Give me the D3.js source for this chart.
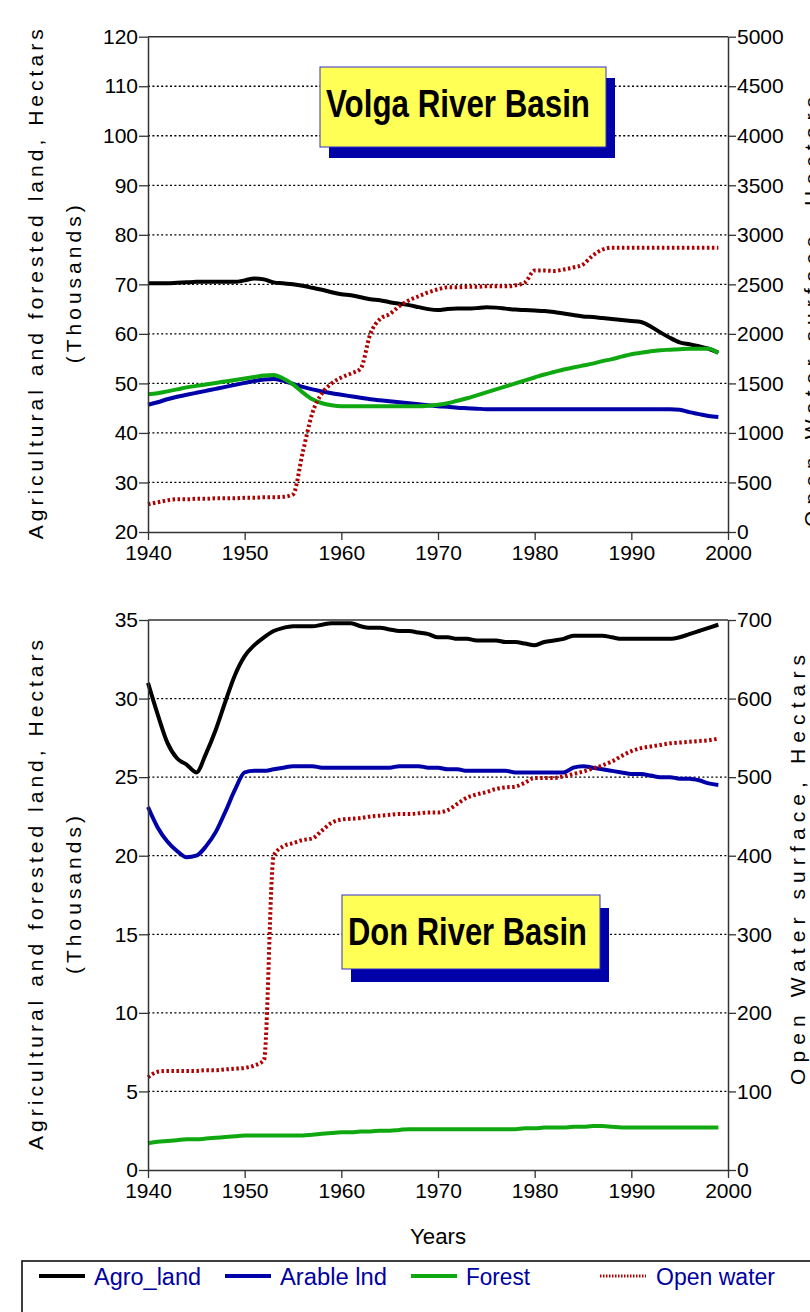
<!DOCTYPE html>
<html>
<head>
<meta charset="utf-8">
<script src="https://cdn.jsdelivr.net/npm/d3@7"></script>
<style>
body { margin: 0; background: #fff; }
text { font-family: "Liberation Sans", Arial, Helvetica, sans-serif; }
</style>
</head>
<body>
<svg id="chart" width="810" height="1312"></svg>
<script>
var years = d3.range(1940, 2000);
var xTicks = [1940, 1950, 1960, 1970, 1980, 1990, 2000];

// Volga river basin (left axis: thousands ha, right axis: ha)
var volgaAgro = [70.2,70.2,70.2,70.3,70.4,70.5,70.5,70.5,70.5,70.5,
  70.8,71.2,71.0,70.4,70.2,70.0,69.7,69.3,68.9,68.4,
  68.0,67.8,67.4,67.0,66.8,66.4,66.1,65.8,65.4,65.0,
  64.8,65.0,65.1,65.1,65.2,65.4,65.3,65.1,64.9,64.8,
  64.7,64.6,64.4,64.1,63.8,63.5,63.4,63.2,63.0,62.8,
  62.6,62.4,61.5,60.3,59.2,58.3,57.9,57.5,57.0,56.2];
var volgaArable = [45.7,46.2,46.8,47.3,47.7,48.1,48.5,48.9,49.3,49.7,
  50.1,50.5,50.8,50.9,50.5,49.9,49.3,48.8,48.4,48.0,
  47.7,47.4,47.1,46.8,46.6,46.4,46.2,46.0,45.8,45.6,
  45.4,45.3,45.1,45.0,44.9,44.8,44.8,44.8,44.8,44.8,
  44.8,44.8,44.8,44.8,44.8,44.8,44.8,44.8,44.8,44.8,
  44.8,44.8,44.8,44.8,44.8,44.7,44.2,43.8,43.4,43.2];
var volgaForest = [47.8,48.0,48.4,48.8,49.2,49.5,49.8,50.1,50.4,50.7,
  51.0,51.3,51.6,51.7,51.0,49.8,48.2,46.8,46.0,45.6,
  45.4,45.4,45.4,45.4,45.4,45.4,45.4,45.4,45.4,45.5,
  45.7,46.0,46.5,47.0,47.6,48.2,48.8,49.4,50.0,50.6,
  51.2,51.8,52.3,52.8,53.2,53.6,54.0,54.5,54.9,55.4,
  55.9,56.2,56.5,56.7,56.8,56.9,57.0,57.0,57.0,56.1];
var volgaWater = [280,300,320,330,330,335,335,340,340,340,
  345,345,350,350,355,380,800,1200,1400,1500,
  1560,1600,1650,2000,2150,2200,2280,2340,2380,2420,
  2450,2470,2470,2475,2475,2480,2480,2480,2490,2520,
  2640,2640,2635,2650,2670,2700,2790,2850,2870,2870,
  2870,2870,2870,2870,2870,2870,2870,2870,2870,2870];
var volgaLeftTicks = [20, 30, 40, 50, 60, 70, 80, 90, 100, 110, 120];
var volgaRightTicks = [0, 500, 1000, 1500, 2000, 2500, 3000, 3500, 4000, 4500, 5000];

// Don river basin
var donAgro = [31.0,29.0,27.2,26.2,25.8,25.3,26.5,28.0,29.8,31.5,
  32.7,33.4,33.9,34.3,34.5,34.6,34.6,34.6,34.7,34.8,
  34.8,34.8,34.6,34.5,34.5,34.4,34.3,34.3,34.2,34.1,
  33.9,33.9,33.8,33.8,33.7,33.7,33.7,33.6,33.6,33.5,
  33.4,33.6,33.7,33.8,34.0,34.0,34.0,34.0,33.9,33.8,
  33.8,33.8,33.8,33.8,33.8,33.9,34.1,34.3,34.5,34.7];
var donArable = [23.1,21.8,20.9,20.3,19.9,20.0,20.6,21.5,22.8,24.2,
  25.3,25.4,25.4,25.5,25.6,25.7,25.7,25.7,25.6,25.6,
  25.6,25.6,25.6,25.6,25.6,25.6,25.7,25.7,25.7,25.6,
  25.6,25.5,25.5,25.4,25.4,25.4,25.4,25.4,25.3,25.3,
  25.3,25.3,25.3,25.3,25.6,25.7,25.6,25.5,25.4,25.3,
  25.2,25.2,25.1,25.0,25.0,24.9,24.9,24.8,24.6,24.5];
var donForest = [1.7,1.8,1.85,1.9,1.95,1.95,2.0,2.05,2.1,2.15,
  2.2,2.2,2.2,2.2,2.2,2.2,2.2,2.25,2.3,2.35,
  2.4,2.4,2.45,2.45,2.5,2.5,2.55,2.6,2.6,2.6,
  2.6,2.6,2.6,2.6,2.6,2.6,2.6,2.6,2.6,2.65,
  2.65,2.7,2.7,2.7,2.75,2.75,2.8,2.8,2.75,2.7,
  2.7,2.7,2.7,2.7,2.7,2.7,2.7,2.7,2.7,2.7];
var donWater = [118,125,126,126,126,126,127,127,128,129,
  130,133,140,400,412,416,420,422,432,442,
  446,447,448,450,451,452,453,453,454,455,
  455,458,466,474,478,481,485,487,488,493,
  499,499,499,501,504,507,511,515,520,527,
  533,537,539,541,543,544,545,546,547,549];
var donLeftTicks = [0, 5, 10, 15, 20, 25, 30, 35];
var donRightTicks = [0, 100, 200, 300, 400, 500, 600, 700];

var seriesNames = ["Agro_land", "Arable lnd", "Forest", "Open water"];
var seriesColors = ["#000000", "#0000a8", "#10a810", "#b00000"];

var svg = d3.select("#chart");

var x = d3.scaleLinear()
  .domain([1940, 2000])
  .range([148, 728]);

function drawPanel(p) {
  var yL = d3.scaleLinear().domain(p.leftDomain).range([p.bottom, p.top]);
  var yR = d3.scaleLinear().domain(p.rightDomain).range([p.bottom, p.top]);
  var g = svg.append("g");

  // dotted grid
  g.selectAll(".grid")
    .data(p.leftTicks.slice(1, -1))
    .enter().append("line")
    .attr("x1", x(1940)).attr("x2", x(2000))
    .attr("y1", function(d) { return yL(d); })
    .attr("y2", function(d) { return yL(d); })
    .attr("stroke", "#000")
    .attr("stroke-width", 1.3)
    .attr("stroke-dasharray", "2,2.4");

  // top frame
  g.append("line")
    .attr("x1", x(1940)).attr("x2", x(2000))
    .attr("y1", p.top).attr("y2", p.top)
    .attr("stroke", "#333").attr("stroke-width", 1.5);

  // title box with shadow
  var b = p.box;
  g.append("rect").attr("x", b.x + b.dx).attr("y", b.y + b.dy)
    .attr("width", b.w).attr("height", b.h).attr("fill", "#0000a8");
  g.append("rect").attr("x", b.x).attr("y", b.y)
    .attr("width", b.w).attr("height", b.h)
    .attr("fill", "#ffff55").attr("stroke", "#3030c8").attr("stroke-width", 1);
  g.append("text")
    .attr("x", b.x + 6).attr("y", b.base)
    .attr("font-size", 39).attr("font-weight", "bold")
    .attr("textLength", b.tl).attr("lengthAdjust", "spacingAndGlyphs")
    .text(b.label);

  // series
  var left = [p.agro, p.arable, p.forest];
  left.forEach(function(vals, i) {
    var line = d3.line()
      .x(function(d, j) { return x(years[j]); })
      .y(function(d) { return yL(d); })
      .curve(d3.curveMonotoneX);
    g.append("path").datum(vals)
      .attr("d", line)
      .attr("fill", "none")
      .attr("stroke", seriesColors[i])
      .attr("stroke-width", 4);
  });
  var wline = d3.line()
    .x(function(d, j) { return x(years[j]); })
    .y(function(d) { return yR(d); })
    .curve(d3.curveMonotoneX);
  g.append("path").datum(p.water)
    .attr("d", wline)
    .attr("fill", "none")
    .attr("stroke", seriesColors[3])
    .attr("stroke-width", 4)
    .attr("stroke-dasharray", "2.5,2.5");

  // axes
  var ax = g.append("g").attr("transform", "translate(" + x(1940) + ",0)")
    .call(d3.axisLeft(yL).tickValues(p.leftTicks).tickSize(9).tickSizeOuter(0).tickPadding(1));
  var ar = g.append("g").attr("transform", "translate(" + x(2000) + ",0)")
    .call(d3.axisRight(yR).tickValues(p.rightTicks).tickFormat(d3.format("d"))
      .tickSize(8).tickSizeOuter(0).tickPadding(1));
  var ab = g.append("g").attr("transform", "translate(0," + p.bottom + ")")
    .call(d3.axisBottom(x).tickValues(xTicks).tickFormat(d3.format("d"))
      .tickSize(8).tickSizeOuter(0).tickPadding(5));
  [ax, ar, ab].forEach(function(a) {
    a.select(".domain").attr("stroke", "#333").attr("stroke-width", 1.5);
    a.selectAll(".tick line").attr("stroke", "#333").attr("stroke-width", 1.3);
    a.selectAll("text").attr("font-size", 21).attr("fill", "#000")
      .attr("font-family", "'Liberation Sans', Arial, sans-serif");
  });

  // axis titles
  var mid = (p.top + p.bottom) / 2;
  g.append("text")
    .attr("transform", "translate(43," + mid + ") rotate(-90)")
    .attr("text-anchor", "middle").attr("font-size", 21)
    .attr("textLength", 510).attr("lengthAdjust", "spacing")
    .text("Agricultural and forested land, Hectars");
  g.append("text")
    .attr("transform", "translate(81," + mid + ") rotate(-90)")
    .attr("text-anchor", "middle").attr("font-size", 21)
    .attr("textLength", 158).attr("lengthAdjust", "spacing")
    .text("(Thousands)");
  g.append("text")
    .attr("transform", "translate(" + p.rightX + "," + p.rightMid + ") rotate(-90)")
    .attr("text-anchor", "middle").attr("font-size", 21)
    .attr("textLength", 430).attr("lengthAdjust", "spacing")
    .text("Open Water surface, Hectars");
}

drawPanel({
  top: 36.7, bottom: 532,
  leftDomain: [20, 120], rightDomain: [0, 5000],
  leftTicks: volgaLeftTicks, rightTicks: volgaRightTicks,
  agro: volgaAgro, arable: volgaArable, forest: volgaForest, water: volgaWater,
  box: {x: 320, y: 67, w: 286, h: 80, dx: 9, dy: 11, base: 117, tl: 264, label: "Volga River Basin"},
  rightX: 819, rightMid: 312
});

drawPanel({
  top: 620, bottom: 1170,
  leftDomain: [0, 35], rightDomain: [0, 700],
  leftTicks: donLeftTicks, rightTicks: donRightTicks,
  agro: donAgro, arable: donArable, forest: donForest, water: donWater,
  box: {x: 342, y: 895, w: 258, h: 74, dx: 9, dy: 13, base: 945, tl: 239, label: "Don River Basin"},
  rightX: 805, rightMid: 870
});

svg.append("text")
  .attr("x", x(1970)).attr("y", 1244)
  .attr("text-anchor", "middle").attr("font-size", 22)
  .attr("textLength", 56).attr("lengthAdjust", "spacingAndGlyphs")
  .text("Years");

// legend
svg.append("rect")
  .attr("x", 22).attr("y", 1261)
  .attr("width", 800).attr("height", 80)
  .attr("fill", "#fff").attr("stroke", "#000").attr("stroke-width", 1.5);

var legendX = [39, 225, 411, 600];
var legendLen = [107, 107, 64, 119];
var legend = svg.selectAll(".legend")
  .data(seriesNames)
  .enter().append("g")
  .attr("transform", function(d, i) { return "translate(" + legendX[i] + ",1276)"; });
legend.append("line")
  .attr("x1", 0).attr("x2", 46)
  .attr("stroke", function(d, i) { return seriesColors[i]; })
  .attr("stroke-width", function(d, i) { return i == 3 ? 3 : 4; })
  .attr("stroke-dasharray", function(d, i) { return i == 3 ? "1.5,1.5" : null; });
legend.append("text")
  .attr("x", function(d, i) { return i == 3 ? 56 : 55; })
  .attr("y", 9)
  .attr("font-size", 23).attr("fill", "#0000a0")
  .attr("textLength", function(d, i) { return legendLen[i]; })
  .attr("lengthAdjust", "spacingAndGlyphs")
  .text(function(d) { return d; });
</script>
</body>
</html>
